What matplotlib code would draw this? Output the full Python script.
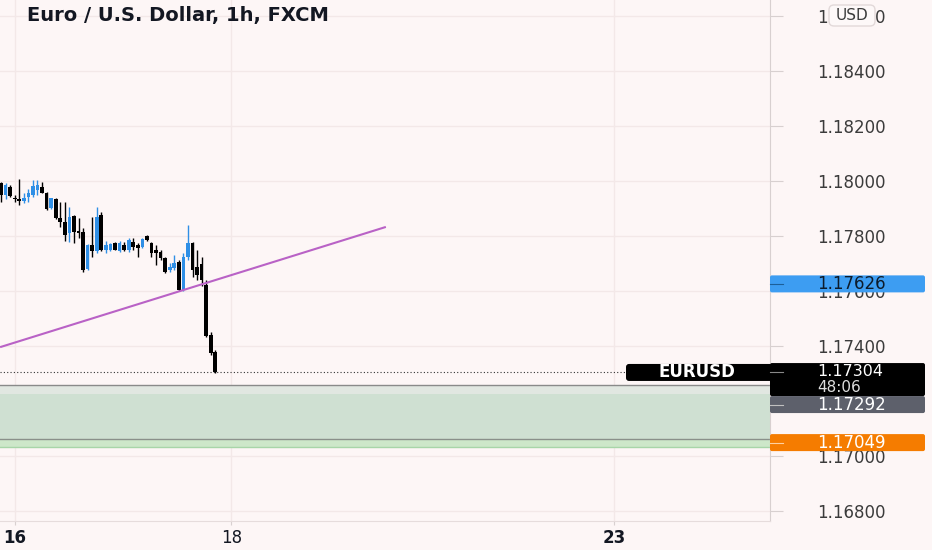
import matplotlib
matplotlib.use("Agg")
import matplotlib.pyplot as plt
import matplotlib.transforms as mtransforms
from matplotlib.patches import FancyBboxPatch
from matplotlib.lines import Line2D

W, H = 932, 550

# EURUSD 1h candles
opens = [1.17993, 1.17949, 1.17978, 1.17940, 1.17935, 1.17927, 1.17942, 1.17949, 1.17967, 1.17978,
         1.17956, 1.17902, 1.17935, 1.17865, 1.17851, 1.17811, 1.17873, 1.17818, 1.17815, 1.17680,
         1.17767, 1.17745, 1.17876, 1.17749, 1.17749, 1.17775, 1.17745, 1.17767, 1.17749, 1.17778,
         1.17767, 1.17760, 1.17800, 1.17775, 1.17749, 1.17742, 1.17720, 1.17676, 1.17684, 1.17705,
         1.17604, 1.17724, 1.17775, 1.17687, 1.17700, 1.17622, 1.17440, 1.17378]
highs = [1.17996, 1.17993, 1.17985, 1.17949, 1.18007, 1.17956, 1.17971, 1.18004, 1.18004, 1.17996,
         1.17960, 1.17938, 1.17938, 1.17924, 1.17924, 1.17905, 1.17876, 1.17865, 1.17829, 1.17771,
         1.17869, 1.17905, 1.17887, 1.17782, 1.17775, 1.17778, 1.17782, 1.17778, 1.17793, 1.17793,
         1.17775, 1.17793, 1.17804, 1.17778, 1.17767, 1.17749, 1.17724, 1.17702, 1.17731, 1.17713,
         1.17738, 1.17840, 1.17778, 1.17749, 1.17724, 1.17640, 1.17451, 1.17385]
lows = [1.17924, 1.17935, 1.17942, 1.17924, 1.17913, 1.17920, 1.17924, 1.17942, 1.17949, 1.17956,
        1.17895, 1.17898, 1.17862, 1.17833, 1.17782, 1.17778, 1.17775, 1.17793, 1.17669, 1.17676,
        1.17724, 1.17738, 1.17745, 1.17738, 1.17745, 1.17749, 1.17742, 1.17745, 1.17742, 1.17749,
        1.17724, 1.17756, 1.17782, 1.17724, 1.17695, 1.17713, 1.17665, 1.17669, 1.17676, 1.17600,
        1.17600, 1.17713, 1.17651, 1.17640, 1.17618, 1.17433, 1.17367, 1.17302]
closes = [1.17949, 1.17985, 1.17945, 1.17936, 1.17927, 1.17938, 1.17956, 1.17982, 1.17985, 1.17956,
          1.17898, 1.17938, 1.17865, 1.17851, 1.17804, 1.17869, 1.17815, 1.17811, 1.17676, 1.17767,
          1.17745, 1.17869, 1.17749, 1.17767, 1.17771, 1.17749, 1.17775, 1.17749, 1.17785, 1.17760,
          1.17756, 1.17789, 1.17785, 1.17738, 1.17738, 1.17720, 1.17669, 1.17687, 1.17702, 1.17604,
          1.17724, 1.17775, 1.17676, 1.17658, 1.17640, 1.17436, 1.17375, 1.17304]

price_ticks = [1.168, 1.170, 1.172, 1.174, 1.176, 1.178, 1.180, 1.182, 1.184, 1.186]
hidden_ticks = [1.172]          # fully covered by the price tags in the screenshot
time_ticks = [3, 50.5, 134.5]
time_labels = ["16", "18", "23"]
time_bold = [True, False, True]

# trend line (bar index, price)
trend_x = [-0.2, 84.4]
trend_y = [1.17396, 1.17833]

# zone: top line, inner top, inner bottom, bottom edge
zone_levels = [1.17258, 1.17225, 1.17062, 1.17033]

symbol = "EURUSD"
last_price = 1.17304
countdown = "48:06"
blue_price = 1.17626
gray_price = 1.17292
orange_price = 1.17049

BG = "#fdf6f6"
UP = "#2f8fe6"
DOWN = "#000000"
TXT = "#131722"
AX_TXT = "#3b3b3b"
LINE = "#d8d0d0"

fig = plt.figure(figsize=(W / 100, H / 100), dpi=100, facecolor=BG)
ax = fig.add_axes([0, 29 / H, 770 / W, 521 / H])
ax.set_facecolor(BG)
ax.set_xlim(-0.22, 168.64)
ax.set_ylim(1.16764, 1.18658)

# zone
ax.axhspan(zone_levels[1], zone_levels[0], color="#e1e7e1", lw=0, zorder=1)
ax.axhspan(zone_levels[2], zone_levels[1], color="#cfe0d2", lw=0, zorder=1)
ax.axhspan(zone_levels[3], zone_levels[2], color="#cde7c9", lw=0, zorder=1)
ax.axhline(zone_levels[0], color="#8a8a8a", lw=1, zorder=1.5)
ax.axhline(zone_levels[2], color="#8a908a", lw=1, zorder=1.5)
ax.axhline(zone_levels[3], color="#a8d5a8", lw=1, zorder=1.5)

# candles
for i, (o, h, l, c) in enumerate(zip(opens, highs, lows, closes)):
    col = UP if c >= o else DOWN
    ax.vlines(i, l, h, colors=col, lw=1.0, zorder=3)
    body = max(abs(c - o), 0.00003)
    ax.bar(i, body, bottom=min(o, c), width=0.8, color=col, lw=0, zorder=3)

ax.plot(trend_x, trend_y, color="#b962c6", lw=1.5, zorder=4, solid_capstyle="butt")

# last price dotted line up to the symbol tag
ax.hlines(last_price, -0.22, 137.2, colors="#333333", linestyles=(0, (1, 2)), lw=0.8, zorder=2)

# axes
ax.yaxis.tick_right()
ax.set_yticks(price_ticks)
ax.set_yticklabels(["" if p in hidden_ticks else f"{p:.5f}" for p in price_ticks])
ax.tick_params(axis="y", length=9.4, width=0.8, color=LINE, pad=24.5,
               labelsize=12, labelcolor=AX_TXT)
ax.set_xticks(time_ticks)
ax.set_xticklabels(time_labels)
ax.tick_params(axis="x", length=3, width=0.8, color=LINE, pad=3,
               labelsize=12, labelcolor=TXT)
for lbl, b in zip(ax.get_xticklabels(), time_bold):
    if b:
        lbl.set_fontweight("bold")
ax.grid(True, color="#f3e8e8", lw=1)
ax.set_axisbelow(True)
for s in ["top", "left"]:
    ax.spines[s].set_visible(False)
ax.spines["right"].set_color(LINE)
ax.spines["bottom"].set_color("#e6dcdc")

# price tags on the right scale (pixel coords)
ident = mtransforms.IdentityTransform()


def ypx(price):
    return ax.transData.transform((0, price))[1]


def tag(x0, x1, y0, h, face, r=2):
    fig.add_artist(FancyBboxPatch((x0, y0), x1 - x0, h,
                                  boxstyle=f"round,pad=0,rounding_size={r}",
                                  fc=face, ec="none", transform=ident))


def dash(y, color):
    fig.add_artist(Line2D([770, 783], [y, y], color=color, lw=0.8, transform=ident))


def label(x, y, s, color, size=12, **kw):
    fig.text(x / W, y / H, s, color=color, fontsize=size, va="center", **kw)


TX = 817
yb = ypx(blue_price)
tag(770, 925, yb - 8.5, 17, "#3d9df2")
dash(yb, "#1c5f99")
label(TX, yb, f"{blue_price:.5f}", "#0d1b2a")

yl = ypx(last_price)
black_top = yl + 9.4
tag(770, 925, black_top - 33, 33, "#000000")
dash(yl, "#888888")
label(TX, yl + 0.5, f"{last_price:.5f}", "white", size=11.5)
label(TX, yl - 15, countdown, "#dddddd", size=11)

tag(626, 776, yl - 8.5, 17, "#000000", r=3)
label(697, yl, symbol, "white", ha="center", fontweight="bold")

gray_top = black_top - 33
tag(770, 925, gray_top - 17, 17, "#5d606b")
dash(gray_top - 8.5, "#c0c0c0")
label(TX, gray_top - 8.5, f"{gray_price:.5f}", "white")

yo = ypx(orange_price)
tag(770, 925, yo - 8.5, 17, "#f57c00")
dash(yo, "#ffd0a0")
label(TX, yo, f"{orange_price:.5f}", "white")

# currency button over the top price label
fig.add_artist(FancyBboxPatch((829, H - 26), 46, 21, boxstyle="round,pad=0,rounding_size=5",
                              fc="#fdf8f8", ec="#e2d9d9", lw=1, transform=ident))
fig.text(852 / W, (H - 15.5) / H, "USD", color=AX_TXT, fontsize=11, ha="center", va="center")

fig.text(27 / W, (H - 16) / H, "Euro / U.S. Dollar, 1h, FXCM", color=TXT, fontsize=14,
         fontweight="bold", va="center")

fig.savefig("out.png", dpi=100, facecolor=BG)
